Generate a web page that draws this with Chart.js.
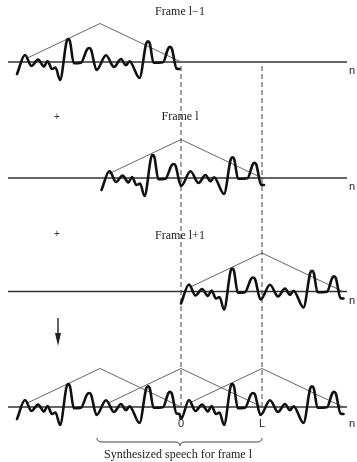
<!DOCTYPE html>
<html>
<head>
<meta charset="utf-8">
<script src="https://cdn.jsdelivr.net/npm/chart.js@4"></script>
<style>
  body { margin: 0; background: #fff; }
  #wrap { width: 357px; height: 462px; }
</style>
</head>
<body>
<div id="wrap"><canvas id="chartCanvas" width="357" height="462"></canvas></div>
<script>
// frame length (samples) and the speech segment
const L = 81;
const waveN = [0, 8, 14.5, 21, 27, 30.5, 35, 38.5, 43, 49.6, 51.3, 53, 56.8, 64, 70, 72, 74, 79.5, 89, 97, 104, 109, 112.5, 122.5, 129.2, 131, 132.8, 136.5, 146, 151.2, 153, 154.8, 159.5, 162.5];
const waveAmp = [-12, 7, -4, 2.5, -4.5, 1, -7, -5.5, -18, 20.5, 23, 20.5, -1.2, -0.7, 12.5, 14, 12.5, -8, 6.7, -5, 3, -3.3, 0.8, -16, 18.5, 20.7, 18.5, -0.8, -0.2, 13.5, 15.3, 13.5, -6.5, -7];
const frameStarts = [-164, -79.5, 0];
const windowCenters = [-L, 0, L];
const windowHeight = 38.5;
const frameLabels = ['Frame l\u22121', 'Frame l', 'Frame l+1'];
const tickLabels = ['0', 'L'];
const axisName = 'n';
const caption = 'Synthesized speech for frame l';

// layout (y in pixels from the top)
const baselines = [62, 178, 291.5, 407];
const serif = '"Liberation Serif", "Times New Roman", serif';
const sans = '"Liberation Sans", Arial, sans-serif';

const wavePoints = (start, base) =>
  waveN.map((n, i) => ({ x: start + n, y: base - waveAmp[i] }));

const windowPoints = (c, base) => [
  { x: c - L * 0.89, y: base - windowHeight * 0.11 },
  { x: c, y: base - windowHeight },
  { x: c + L, y: base },
];

const waveStyle = {
  showLine: true, pointRadius: 0, borderColor: '#111', borderWidth: 2.6,
  cubicInterpolationMode: 'monotone', borderCapStyle: 'round', borderJoinStyle: 'round',
};
const winStyle = { showLine: true, pointRadius: 0, borderColor: '#555', borderWidth: 0.9 };
const axisStyle = { showLine: true, pointRadius: 0, borderColor: '#333', borderWidth: 1.3 };
const dashStyle = { showLine: true, pointRadius: 0, borderColor: '#444', borderWidth: 1, borderDash: [5, 3] };

const datasets = [];
// single frames
for (let i = 0; i < 3; i++) {
  datasets.push({ ...waveStyle, data: wavePoints(frameStarts[i], baselines[i]) });
}
// overlap-added result: frame l-1 then frame l+1
datasets.push({
  ...waveStyle,
  data: wavePoints(frameStarts[0], baselines[3]).concat(wavePoints(frameStarts[2], baselines[3])),
});
for (let i = 0; i < 3; i++) {
  datasets.push({ ...winStyle, data: windowPoints(windowCenters[i], baselines[i]) });
  datasets.push({ ...winStyle, data: windowPoints(windowCenters[i], baselines[3]) });
}
baselines.forEach(b => {
  datasets.push({ ...axisStyle, data: [{ x: -173, y: b }, { x: 166, y: b }] });
});
[0, L].forEach(x => {
  datasets.push({ ...dashStyle, data: [{ x: x, y: baselines[0] + 4 }, { x: x, y: baselines[3] + 2 }] });
});

const textPlugin = {
  id: 'texts',
  afterDatasetsDraw(chart) {
    const { ctx, scales: { x, y } } = chart;
    const px = v => x.getPixelForValue(v);
    const py = v => y.getPixelForValue(v);
    ctx.save();
    ctx.fillStyle = '#222';
    ctx.textAlign = 'center';
    ctx.textBaseline = 'middle';
    ctx.font = '12px ' + serif;
    const labelY = [12, 117, 236];
    frameLabels.forEach((t, i) => ctx.fillText(t, px(-1), py(labelY[i])));

    ctx.font = '10px ' + sans;
    ctx.fillStyle = '#333';
    [117, 234].forEach(v => ctx.fillText('+', px(-124), py(v)));

    ctx.font = '11px ' + sans;
    ctx.textBaseline = 'alphabetic';
    ctx.fillStyle = '#222';
    baselines.slice(0, 3).forEach(b => ctx.fillText(axisName, px(171), py(b + 12)));
    ctx.fillText(axisName, px(171), py(427));
    tickLabels.forEach((t, i) => ctx.fillText(t, px(i * L), py(427)));

    // arrow
    const ax = px(-123);
    ctx.strokeStyle = '#111';
    ctx.lineWidth = 1.3;
    ctx.beginPath();
    ctx.moveTo(ax, py(318));
    ctx.lineTo(ax, py(336));
    ctx.stroke();
    ctx.beginPath();
    ctx.moveTo(ax - 3, py(333));
    ctx.lineTo(ax + 3, py(333));
    ctx.lineTo(ax, py(346));
    ctx.closePath();
    ctx.fill();

    // brace
    const x0 = px(-L - 3), x1 = px(L), xm = px(-1);
    const yt = py(438), yl = py(442), yb = py(446);
    ctx.strokeStyle = '#444';
    ctx.lineWidth = 1;
    ctx.beginPath();
    ctx.moveTo(x0, yt);
    ctx.quadraticCurveTo(x0, yl, x0 + 5, yl);
    ctx.lineTo(xm - 5, yl);
    ctx.quadraticCurveTo(xm, yl, xm, yb);
    ctx.quadraticCurveTo(xm, yl, xm + 5, yl);
    ctx.lineTo(x1 - 5, yl);
    ctx.quadraticCurveTo(x1, yl, x1, yt);
    ctx.stroke();

    ctx.font = '12px ' + serif;
    ctx.textBaseline = 'middle';
    ctx.fillStyle = '#222';
    ctx.fillText(caption, px(-3), py(455));
    ctx.restore();
  },
};

new Chart(document.getElementById('chartCanvas').getContext('2d'), {
  type: 'scatter',
  data: { datasets },
  options: {
    responsive: false,
    animation: false,
    layout: { padding: 0 },
    plugins: { legend: { display: false }, tooltip: { enabled: false } },
    scales: {
      x: { type: 'linear', min: -181, max: 176, display: false },
      y: { type: 'linear', min: 0, max: 462, reverse: true, display: false },
    },
  },
  plugins: [textPlugin],
});
</script>
</body>
</html>
